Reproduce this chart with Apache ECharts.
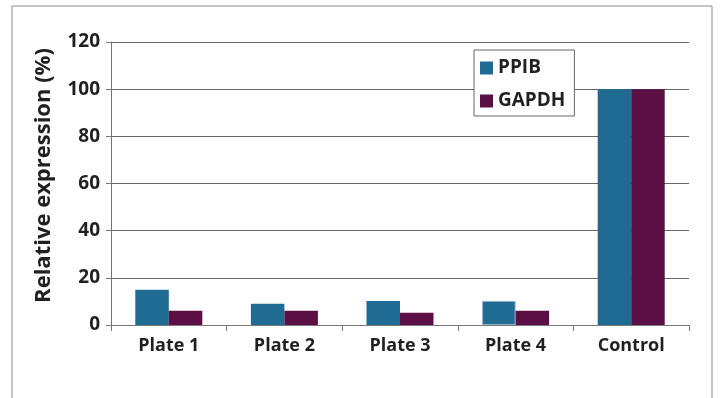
<!DOCTYPE html>
<html><head><meta charset="utf-8">
<script src="https://cdn.jsdelivr.net/npm/echarts@6/dist/echarts.min.js"></script>
<style>html,body{margin:0;padding:0;background:#fff}#c{width:720px;height:398px}</style>
</head><body><div id="c"></div>
<script>
const categories = ['Plate 1', 'Plate 2', 'Plate 3', 'Plate 4', 'Control'];
const ppib = [15, 9, 10.2, 10.2, 100];
const gapdh = [6, 6, 5.2, 6, 100];
const yTicks = [0, 20, 40, 60, 80, 100, 120];

const FONT = 'Open Sans';
const TXT = '#231f20';
const chart = echarts.init(document.getElementById('c'), null, {renderer: 'canvas'});
chart.setOption({
  animation: false,
  backgroundColor: '#fff',
  textStyle: {fontFamily: FONT},
  graphic: [{
    type: 'rect', shape: {x: 12, y: 6, width: 700, height: 420},
    style: {fill: 'none', stroke: '#8a8a8a', lineWidth: 1}, silent: true, z: -1
  }],
  grid: {left: 111, right: 31, top: 42, bottom: 73},
  legend: {
    orient: 'vertical', left: 474, top: 50,
    data: ['PPIB', 'GAPDH'],
    backgroundColor: '#fff', borderColor: '#666', borderWidth: 1,
    padding: [8, 9, 5, 6], itemGap: 13, itemWidth: 13, itemHeight: 13,
    icon: 'rect',
    textStyle: {fontFamily: FONT, fontWeight: 'bold', fontSize: 19, lineHeight: 20, color: TXT}
  },
  xAxis: {
    type: 'category', data: categories,
    axisLine: {lineStyle: {color: '#777', width: 1}},
    axisTick: {show: true, length: 6, lineStyle: {color: '#777'}},
    axisLabel: {fontFamily: FONT, fontWeight: 'bold', fontSize: 18, color: TXT, margin: 12}
  },
  yAxis: {
    type: 'value', min: yTicks[0], max: yTicks[yTicks.length - 1], interval: 20,
    name: 'Relative expression (%)', nameLocation: 'middle', nameGap: 56,
    nameTextStyle: {fontFamily: FONT, fontWeight: 'bold', fontSize: 22, color: TXT, padding: [0, 0, 0, 16]},
    axisLine: {show: true, lineStyle: {color: '#777'}},
    axisTick: {show: true, length: 5, lineStyle: {color: '#777'}},
    axisLabel: {fontFamily: FONT, fontWeight: 'bold', fontSize: 19, color: TXT, margin: 11},
    splitLine: {lineStyle: {color: '#666', width: 1}}
  },
  series: [
    {name: 'PPIB', type: 'bar', barWidth: 33.5, barGap: '0%', itemStyle: {color: '#1f6b92'},
     data: ppib.map((v, i) => i === 3 ? {value: v, itemStyle: {borderColor: '#8fb0d4', borderWidth: 1}} : v)},
    {name: 'GAPDH', type: 'bar', data: gapdh, barWidth: 33.5, barGap: '0%', itemStyle: {color: '#5c0f45'}}
  ]
});
</script></body></html>
